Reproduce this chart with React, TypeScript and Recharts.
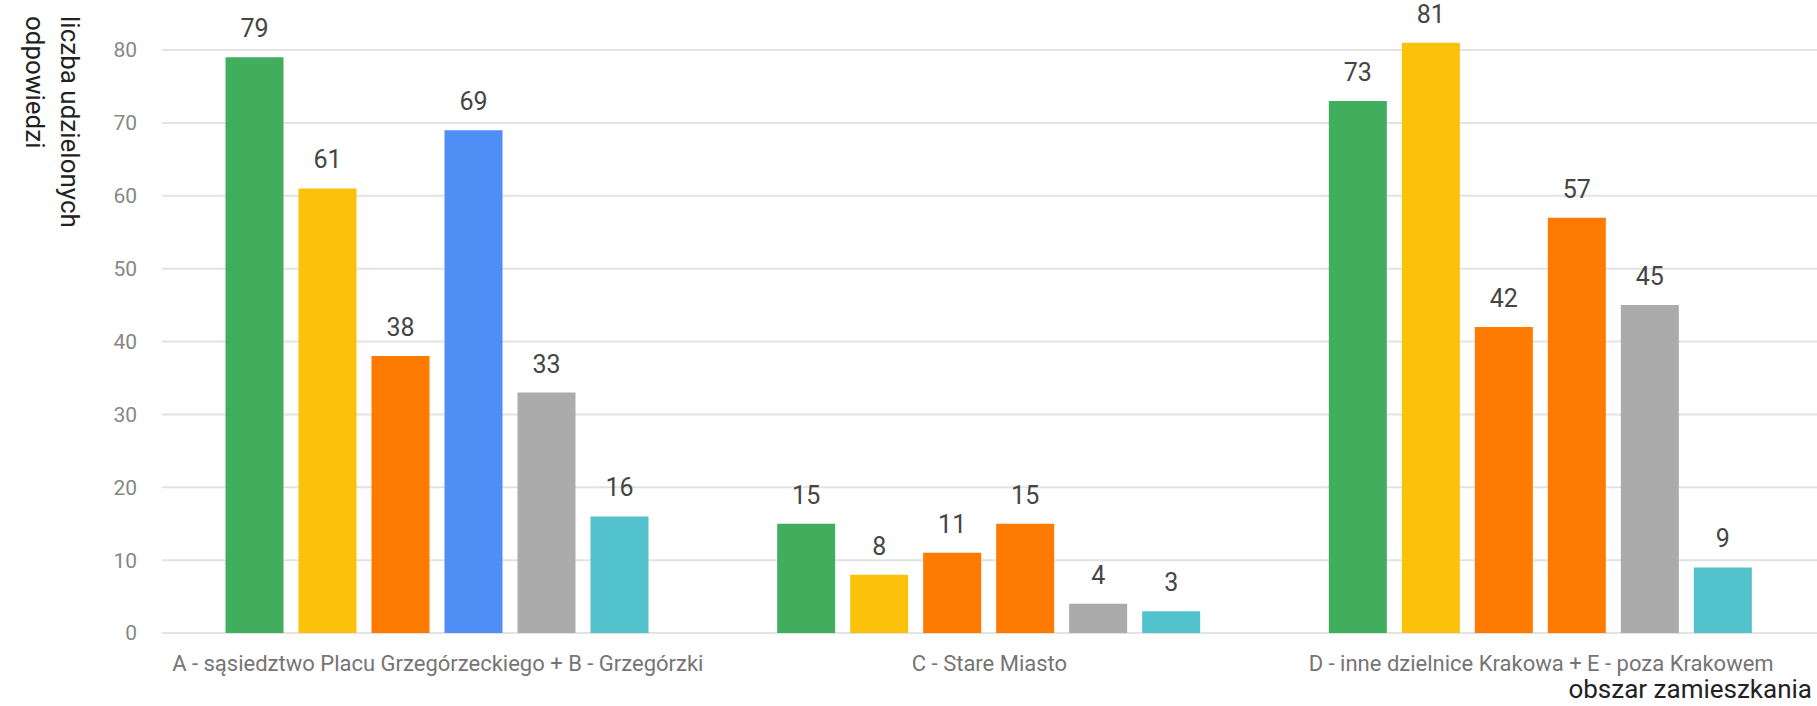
import React from "react";
import { BarChart, Bar, XAxis, YAxis, CartesianGrid, Cell, LabelList } from "recharts";

// Residence areas (categories on the X axis)
const categories = [
  "A - sąsiedztwo Placu Grzegórzeckiego + B - Grzegórzki",
  "C - Stare Miasto",
  "D - inne dzielnice Krakowa + E - poza Krakowem",
];

// Answer counts per series, one value per area
const series1 = [79, 15, 73];
const series2 = [61, 8, 81];
const series3 = [38, 11, 42];
const series4 = [69, 15, 57];
const series5 = [33, 4, 45];
const series6 = [16, 3, 9];

const yTicks = [0, 10, 20, 30, 40, 50, 60, 70, 80];

const colors = ["#40ae5d", "#fbc10b", "#ff7a00", "#ff7a00", "#ababab", "#52c2cc"];
// the fourth series is coloured per area
const series4Colors = ["#4f8ef5", "#ff7a00", "#ff7a00"];

const seriesValues = [series1, series2, series3, series4, series5, series6];
const keys = ["s1", "s2", "s3", "s4", "s5", "s6"];

const data = categories.map((name, i) => {
  const row: Record<string, string | number> = { name };
  seriesValues.forEach((vals, s) => {
    row[keys[s]] = vals[i];
  });
  return row;
});

const FONT = "Roboto, 'Noto Sans', sans-serif";

const YTitle = () => (
  <text
    transform="translate(61,16) rotate(90)"
    fontFamily={FONT}
    fontSize={26}
    fill="#222"
    textAnchor="start"
  >
    <tspan x={0} y={0}>liczba udzielonych</tspan>
    <tspan x={0} y={35}>odpowiedzi</tspan>
  </text>
);

const XTitle = () => (
  <text x={1812} y={698} fontFamily={FONT} fontSize={26} fill="#222" textAnchor="end">
    obszar zamieszkania
  </text>
);

export default function App() {
  return (
    <div style={{ width: 1817, height: 706, background: "#fff" }}>
      <style>{"body{margin:0;background:#fff}"}</style>
      <BarChart
        width={1817}
        height={706}
        data={data}
        margin={{ top: 13.6, right: 0, bottom: 0, left: 0 }}
        barCategoryGap={63.5}
        barGap={15}
      >
        <CartesianGrid
          vertical={false}
          horizontalValues={yTicks}
          stroke="#e3e3e3"
          strokeWidth={2}
        />
        <XAxis
          dataKey="name"
          height={73}
          axisLine={false}
          tickLine={false}
          tickSize={0}
          tickMargin={22}
          interval={0}
          tick={{ fontFamily: FONT, fontSize: 22, fill: "#757575" }}
          label={<XTitle />}
        />
        <YAxis
          width={162}
          domain={[0, 85]}
          ticks={yTicks}
          axisLine={false}
          tickLine={false}
          tickSize={0}
          tickMargin={25}
          tick={{ fontFamily: FONT, fontSize: 21, fill: "#878787" }}
          label={<YTitle />}
        />
        {keys.map((k, s) => (
          <Bar key={k} dataKey={k} fill={colors[s]} isAnimationActive={false}>
            {s === 3 &&
              series4Colors.map((c, i) => <Cell key={`c${i}`} fill={c} />)}
            <LabelList
              dataKey={k}
              position="top"
              offset={20}
              fill="#454545"
              fontFamily={FONT}
              fontSize={25}
            />
          </Bar>
        ))}
      </BarChart>
    </div>
  );
}
